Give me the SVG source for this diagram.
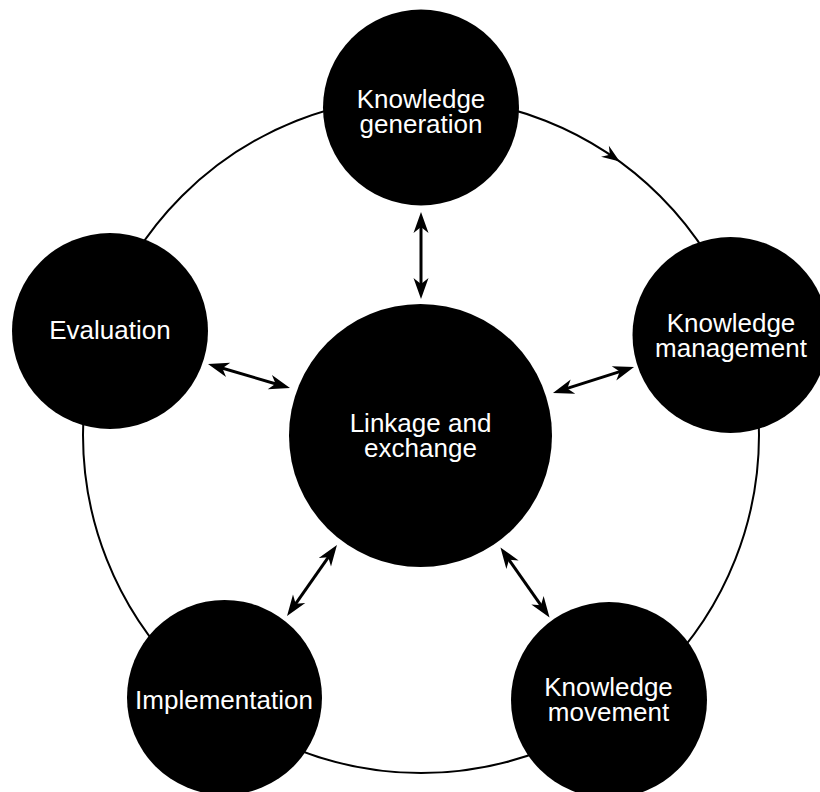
<svg xmlns="http://www.w3.org/2000/svg" width="820" height="792" viewBox="0 0 820 792">
  <style>
    .ring { fill: none; stroke: #000; stroke-width: 2; }
    .node { fill: #000; }
    .label { fill: #fff; font-family: "Liberation Sans", Arial, sans-serif; font-size: 26px; text-anchor: middle; }
    .link { stroke: #000; stroke-width: 3; fill: none; marker-start: url(#head); marker-end: url(#head); }
  </style>
  <defs>
    <!-- concave arrowhead; tip sits 10 units beyond the line end -->
    <marker id="head" markerUnits="userSpaceOnUse" orient="auto-start-reverse" refX="0" refY="0" markerWidth="40" markerHeight="40" overflow="visible">
      <path d="M10,0 L-11,-7.5 L-5,0 L-11,7.5 Z" fill="#000"/>
    </marker>
  </defs>

  <!-- cycle ring behind the nodes -->
  <g id="connectors">
    <circle class="ring" cx="421" cy="435" r="338"/>
    <path d="M0,0 L-18,-6.8 L-12,0 L-18,6.8 Z" fill="#000" transform="translate(619.7,161.6) rotate(35)"/>
    <line class="link" x1="421" y1="222" x2="421" y2="289"/>
    <line class="link" x1="217.6" y1="366.8" x2="280.4" y2="385.2"/>
    <line class="link" x1="562.5" y1="389.9" x2="624.5" y2="370.1"/>
    <line class="link" x1="331.2" y1="553.2" x2="292.8" y2="607.8"/>
    <line class="link" x1="506.2" y1="555.7" x2="543.8" y2="609.3"/>
  </g>

  <g id="knowledge-generation">
    <circle class="node" cx="421" cy="107.5" r="98"/>
    <text class="label" x="421" y="108">Knowledge</text>
    <text class="label" x="421" y="133">generation</text>
  </g>

  <g id="knowledge-management">
    <circle class="node" cx="730.5" cy="335" r="98"/>
    <text class="label" x="731" y="332">Knowledge</text>
    <text class="label" x="731" y="357">management</text>
  </g>

  <g id="knowledge-movement">
    <circle class="node" cx="609" cy="700" r="98"/>
    <text class="label" x="608.5" y="696">Knowledge</text>
    <text class="label" x="608.5" y="721">movement</text>
  </g>

  <g id="implementation">
    <circle class="node" cx="224.5" cy="697.5" r="97.5"/>
    <text class="label" x="224" y="709">Implementation</text>
  </g>

  <g id="evaluation">
    <circle class="node" cx="110" cy="331" r="98"/>
    <text class="label" x="110" y="339">Evaluation</text>
  </g>

  <g id="linkage-exchange">
    <circle class="node" cx="420.5" cy="435.5" r="131.5"/>
    <text class="label" x="420.5" y="432">Linkage and</text>
    <text class="label" x="420.5" y="457">exchange</text>
  </g>
</svg>
